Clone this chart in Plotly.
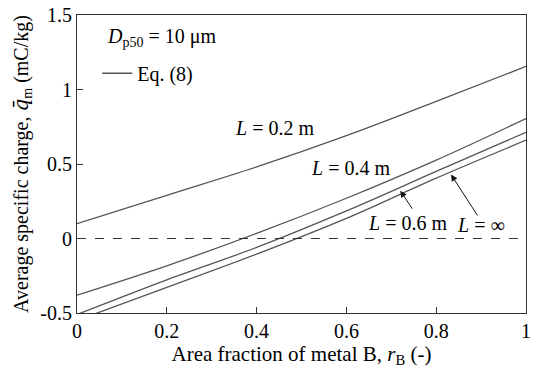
import plotly.graph_objects as go

x_vals = [0.0, 0.2, 0.4, 0.6, 0.8, 1.0]
q_L02 = [0.10, 0.29, 0.48, 0.69, 0.92, 1.155]
q_L04 = [-0.38, -0.183, 0.034, 0.27, 0.526, 0.805]
q_L06 = [-0.51, -0.277, -0.06, 0.185, 0.45, 0.713]
q_Linf = [-0.55, -0.328, -0.105, 0.135, 0.405, 0.66]

series = [("L = 0.2 m", q_L02), ("L = 0.4 m", q_L04), ("L = 0.6 m", q_L06), ("L = ∞", q_Linf)]

x_ticks = [0, 0.2, 0.4, 0.6, 0.8, 1]
x_ticktext = ["0", "0.2", "0.4", "0.6", "0.8", "1"]
y_ticks = [-0.5, 0, 0.5, 1, 1.5]
y_ticktext = ["-0.5", "0", "0.5", "1", "1.5"]

FONT = "Liberation Serif"
LINE_COLOR = "#555555"

fig = go.Figure()
for i, (name, ys) in enumerate(series):
    fig.add_trace(go.Scatter(
        x=x_vals, y=ys, mode="lines", line=dict(color=LINE_COLOR, width=1.3, shape="spline"),
        name="Eq. (8)", showlegend=(i == 0), hoverinfo="skip"))

# zero reference line
fig.add_trace(go.Scatter(x=[0, 1], y=[0, 0], mode="lines",
                         line=dict(color="#333333", width=1, dash="dash"), showlegend=False,
                         hoverinfo="skip"))

annots = [
    dict(x=0.062, y=0.925, xref="paper", yref="paper", xanchor="left", yanchor="middle",
         text="<i>D</i><sub>p50</sub> = 10 μm", showarrow=False),
    dict(x=0.44, y=0.745, text="<i>L</i> = 0.2 m", showarrow=False),
    dict(x=0.61, y=0.47, text="<i>L</i> = 0.4 m", showarrow=False),
    dict(x=0.736, y=0.105, text="<i>L</i> = 0.6 m", showarrow=False),
    dict(x=0.90, y=0.09, text="<i>L</i> = ∞", showarrow=False),
    dict(x=0.72, y=0.32, ax=0.749, ay=0.19, axref="x", ayref="y", text="", showarrow=True,
         arrowhead=2, arrowsize=1.3, arrowwidth=1, arrowcolor="#111111"),
    dict(x=0.833, y=0.43, ax=0.894, ay=0.145, axref="x", ayref="y", text="", showarrow=True,
         arrowhead=2, arrowsize=1.3, arrowwidth=1, arrowcolor="#111111"),
]
for a in annots:
    a.setdefault("font", dict(family=FONT, size=20, color="black"))
    fig.add_annotation(**a)

fig.update_layout(
    width=535, height=378,
    margin=dict(l=77, r=4, t=10, b=65),
    paper_bgcolor="white", plot_bgcolor="white",
    font=dict(family=FONT, size=20, color="black"),
    legend=dict(x=0.045, y=0.87, xanchor="left", yanchor="top", bgcolor="rgba(0,0,0,0)",
                font=dict(family=FONT, size=20)),
    xaxis=dict(range=[0, 1], tickvals=x_ticks, ticktext=x_ticktext, ticks="inside", ticklen=6,
               tickcolor="#333333", showline=True, linecolor="#333333", linewidth=1, mirror=True,
               showgrid=False, zeroline=False, tickfont=dict(family=FONT, size=20),
               ticklabeloverflow="allow",
               title=dict(text="Area fraction of metal B, <i>r</i><sub>B</sub> (-)", standoff=4,
                          font=dict(family=FONT, size=21))),
    yaxis=dict(range=[-0.5, 1.5], tickvals=y_ticks, ticktext=y_ticktext, ticks="inside", ticklen=6,
               tickcolor="#333333", showline=True, linecolor="#333333", linewidth=1, mirror=True,
               showgrid=False, zeroline=False, tickfont=dict(family=FONT, size=20),
               ticklabeloverflow="allow",
               title=dict(text="Average specific charge, <span style=\"font-family:'DejaVu Serif'\"><i>q\u0304</i></span><sub>m</sub> (mC/kg)",
                          standoff=6, font=dict(family=FONT, size=20))),
)

fig.write_html(
    "out.html",
    config={"displayModeBar": False},
    post_script="document.body.style.margin='0';document.documentElement.style.overflow='hidden';",
)
